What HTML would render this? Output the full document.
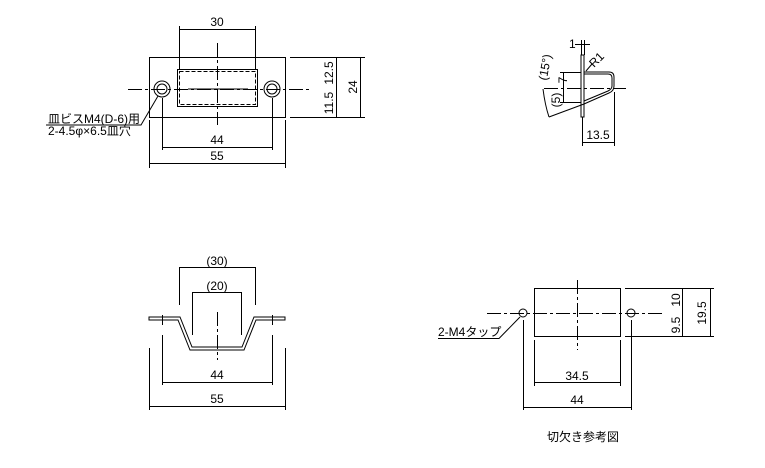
<!DOCTYPE html>
<html><head><meta charset="utf-8"><style>
body{margin:0;background:#fff}
svg{display:block}
text{font-family:"Liberation Sans","Noto Sans CJK JP",sans-serif;font-size:12px;fill:#000}
</style></head><body>
<svg width="765" height="468" viewBox="0 0 765 468" xmlns="http://www.w3.org/2000/svg">
<g stroke="#000" stroke-width="1" fill="none">
<rect x="149.5" y="57.5" width="136" height="60"/>
<rect x="177.5" y="69.5" width="80" height="37"/>
<rect x="179.5" y="71.5" width="76" height="33" stroke-dasharray="4,2"/>
<line x1="188" y1="89" x2="248" y2="89"/>
<circle cx="162" cy="89" r="8"/><circle cx="162" cy="89" r="5"/>
<circle cx="272" cy="89" r="8"/><circle cx="272" cy="89" r="5"/>
<line x1="128" y1="89.5" x2="312" y2="89.5" stroke-dasharray="14,3,3,3"/>
<line x1="217.5" y1="43" x2="217.5" y2="125" stroke-dasharray="14,3,3,3"/>
<line x1="179.5" y1="26" x2="179.5" y2="69"/><line x1="255.5" y1="26" x2="255.5" y2="69"/>
<line x1="179" y1="29.5" x2="256" y2="29.5"/>
<line x1="162.5" y1="98" x2="162.5" y2="150"/><line x1="272.5" y1="98" x2="272.5" y2="150"/>
<line x1="162" y1="147.5" x2="273" y2="147.5"/>
<line x1="149.5" y1="120" x2="149.5" y2="168"/><line x1="285.5" y1="120" x2="285.5" y2="168"/>
<line x1="149" y1="163.5" x2="286" y2="163.5"/>
<line x1="290" y1="57.5" x2="365" y2="57.5"/><line x1="290" y1="117.5" x2="365" y2="117.5"/>
<line x1="336.5" y1="57" x2="336.5" y2="118"/><line x1="360.5" y1="57" x2="360.5" y2="118"/>
<polyline points="158,96 141,125 46,125"/>

<rect x="581" y="55" width="3" height="62"/>
<path d="M584,72 H609 Q614,72 614,77 V86 Q614,91 609,93 L584,104"/>
<path d="M584,74 H608 Q612,74 612,78 V86 Q612,89 608,91 L584,101"/>
<line x1="544" y1="88.5" x2="626" y2="88.5" stroke-dasharray="14,3,3,3"/>
<line x1="560" y1="72.5" x2="581" y2="72.5"/><line x1="560" y1="102.5" x2="581" y2="102.5"/>
<line x1="563.5" y1="72" x2="563.5" y2="103"/>
<path d="M543,89 Q545,105 549,117"/>
<line x1="549" y1="117" x2="584" y2="104"/>
<line x1="575" y1="44.5" x2="590" y2="44.5"/>
<line x1="581.5" y1="40" x2="581.5" y2="55"/><line x1="584.5" y1="40" x2="584.5" y2="55"/>
<line x1="586" y1="71" x2="592" y2="64"/>
<line x1="582.5" y1="117" x2="582.5" y2="146"/><line x1="614.5" y1="92" x2="614.5" y2="146"/>
<line x1="582" y1="142.5" x2="615" y2="142.5"/>

<path d="M149,317 H180 L192,347 H242 L254,317 H285 V320 H256 L244,350 H190 L178,320 H149 Z"/>
<line x1="162.5" y1="315" x2="162.5" y2="325" /><line x1="272.5" y1="315" x2="272.5" y2="325"/>
<line x1="217.5" y1="312" x2="217.5" y2="360" stroke-dasharray="14,3,3,3"/>
<line x1="179.5" y1="267" x2="179.5" y2="305"/><line x1="255.5" y1="267" x2="255.5" y2="305"/>
<line x1="179" y1="267.5" x2="256" y2="267.5"/>
<line x1="192.5" y1="292" x2="192.5" y2="335"/><line x1="241.5" y1="292" x2="241.5" y2="335"/>
<line x1="192" y1="292.5" x2="242" y2="292.5"/>
<line x1="162.5" y1="335" x2="162.5" y2="385"/><line x1="272.5" y1="335" x2="272.5" y2="385"/>
<line x1="162" y1="382.5" x2="273" y2="382.5"/>
<line x1="149.5" y1="348" x2="149.5" y2="410"/><line x1="285.5" y1="348" x2="285.5" y2="410"/>
<line x1="149" y1="406.5" x2="286" y2="406.5"/>

<rect x="534.5" y="288.5" width="86" height="48"/>
<circle cx="523" cy="313" r="4"/><circle cx="631" cy="313" r="4"/>
<line x1="487" y1="313.5" x2="662" y2="313.5" stroke-dasharray="14,3,3,3"/>
<line x1="577.5" y1="280" x2="577.5" y2="350" stroke-dasharray="14,3,3,3"/>
<line x1="625" y1="288.5" x2="714" y2="288.5"/><line x1="625" y1="336.5" x2="714" y2="336.5"/>
<line x1="682.5" y1="288" x2="682.5" y2="337"/><line x1="710.5" y1="288" x2="710.5" y2="337"/>
<line x1="534.5" y1="340" x2="534.5" y2="386"/><line x1="620.5" y1="340" x2="620.5" y2="386"/>
<line x1="534" y1="382.5" x2="621" y2="382.5"/>
<line x1="523.5" y1="320" x2="523.5" y2="410"/><line x1="631.5" y1="320" x2="631.5" y2="410"/>
<line x1="523" y1="407.5" x2="632" y2="407.5"/>
<polyline points="438,338.5 499,338.5 520,317"/>
</g>
<text x="217" y="26" text-anchor="middle">30</text>
<text x="217" y="144" text-anchor="middle">44</text>
<text x="217" y="160" text-anchor="middle">55</text>
<text transform="translate(333,73) rotate(-90)" text-anchor="middle">12.5</text>
<text transform="translate(333,103) rotate(-90)" text-anchor="middle">11.5</text>
<text transform="translate(357,87) rotate(-90)" text-anchor="middle">24</text>
<text x="48" y="123" font-size="10.5">皿ビスM4(D-6)用</text>
<text x="48" y="135" font-size="10.5">2-4.5φ×6.5皿穴</text>
<text x="569" y="48" font-size="11">1</text>
<text transform="translate(594,68) rotate(-45)" font-size="10">R1</text>
<text transform="translate(567,80) rotate(-90)" text-anchor="middle" font-size="10">7</text>
<text transform="translate(560,100) rotate(-90)" text-anchor="middle" font-size="10">(5)</text>
<text transform="translate(549,68) rotate(-80)" text-anchor="middle" font-size="10">(15°)</text>
<text x="598" y="139" text-anchor="middle">13.5</text>
<text x="217" y="265" text-anchor="middle">(30)</text>
<text x="217" y="290" text-anchor="middle">(20)</text>
<text x="217" y="379" text-anchor="middle">44</text>
<text x="217" y="403" text-anchor="middle">55</text>
<text transform="translate(680,300) rotate(-90)" text-anchor="middle">10</text>
<text transform="translate(680,325) rotate(-90)" text-anchor="middle">9.5</text>
<text transform="translate(706,313) rotate(-90)" text-anchor="middle">19.5</text>
<text x="577" y="380" text-anchor="middle">34.5</text>
<text x="577" y="404" text-anchor="middle">44</text>
<text x="438" y="336" font-size="11.5">2-M4タップ</text>
<text x="583" y="441" text-anchor="middle" font-size="13">切欠き参考図</text>
</svg>
</body></html>
